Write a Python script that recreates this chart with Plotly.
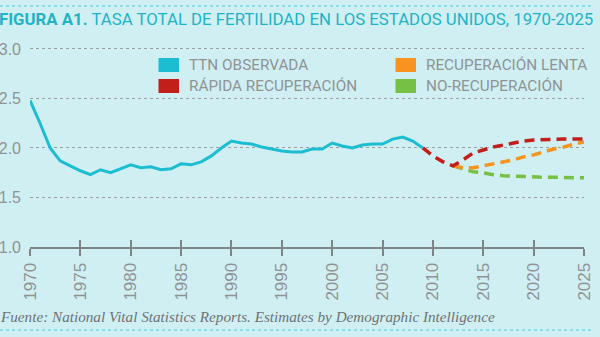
import plotly.graph_objects as go

# ---- data ----
obs_years = list(range(1970, 2010))
obs_tfr = [2.48, 2.25, 2.00, 1.87, 1.82, 1.77, 1.73, 1.78, 1.75, 1.79,
           1.83, 1.80, 1.81, 1.78, 1.79, 1.84, 1.83, 1.86, 1.92, 2.00,
           2.07, 2.05, 2.04, 2.01, 1.99, 1.97, 1.96, 1.96, 1.99, 1.99,
           2.05, 2.02, 2.00, 2.03, 2.04, 2.04, 2.09, 2.11, 2.07, 2.00]

rapid_years = list(range(2009, 2026))
rapid_tfr = [2.00, 1.92, 1.86, 1.82, 1.88, 1.95, 1.98, 2.01, 2.03, 2.05,
             2.07, 2.08, 2.085, 2.09, 2.09, 2.09, 2.09]

slow_years = list(range(2012, 2026))
slow_tfr = [1.82, 1.80, 1.80, 1.82, 1.84, 1.86, 1.88, 1.91, 1.93, 1.96,
            1.99, 2.01, 2.04, 2.06]

none_years = list(range(2012, 2026))
none_tfr = [1.82, 1.79, 1.76, 1.75, 1.73, 1.72, 1.715, 1.71, 1.71, 1.705,
            1.705, 1.70, 1.70, 1.70]

x_ticks = list(range(1970, 2030, 5))
y_ticks = [1.0, 1.5, 2.0, 2.5, 3.0]

legend_labels = ["TTN OBSERVADA", "RÁPIDA RECUPERACIÓN",
                 "RECUPERACIÓN LENTA", "NO-RECUPERACIÓN"]

# ---- styles ----
BG = "#cfeff3"
CYAN = "#1cbdd0"
RED = "#c21f1a"
ORANGE = "#f7931e"
GREEN = "#76c043"
GRAY_TXT = "#8f9394"
AXIS = "#7d8586"
TITLE_C = "#1fb3c7"

W, H = 600, 337
L, R, T, B = 30, 584, 47, 247


def px(x):
    return (x - L) / (R - L)


def py(y):
    return (B - y) / (B - T)


fig = go.Figure()
dash = "10px,6px"
fig.add_trace(go.Scatter(x=none_years, y=none_tfr, mode="lines",
                         line=dict(color=GREEN, width=3.5, dash=dash), showlegend=False))
fig.add_trace(go.Scatter(x=slow_years, y=slow_tfr, mode="lines",
                         line=dict(color=ORANGE, width=3.5, dash=dash), showlegend=False))
fig.add_trace(go.Scatter(x=rapid_years, y=rapid_tfr, mode="lines",
                         line=dict(color=RED, width=3.5, dash=dash), showlegend=False))
fig.add_trace(go.Scatter(x=obs_years, y=obs_tfr, mode="lines",
                         line=dict(color=CYAN, width=3), showlegend=False))
# dummy trace for the overlay axis (ticks pointing up)
fig.add_trace(go.Scatter(x=[None], y=[None], xaxis="x2", showlegend=False, hoverinfo="skip"))

fig.update_layout(
    width=W, height=H,
    margin=dict(l=L, r=W - R, t=T, b=H - B, autoexpand=False),
    paper_bgcolor=BG, plot_bgcolor=BG,
    xaxis=dict(range=[1970, 2025], tickvals=x_ticks, ticks="outside", ticklen=7,
               tickwidth=1.5, tickcolor=AXIS, showline=True, linecolor=AXIS, linewidth=2,
               showgrid=False, zeroline=False, tickangle=-90, automargin=False,
               tickfont=dict(family="Liberation Sans, Arial", size=17, color=GRAY_TXT)),
    xaxis2=dict(range=[1970, 2025], tickvals=x_ticks, ticks="inside", ticklen=7,
                tickwidth=1.5, tickcolor=AXIS, overlaying="x", side="bottom", anchor="y",
                showticklabels=False, showgrid=False, zeroline=False, showline=False,
                automargin=False),
    yaxis=dict(range=[1.0, 3.02], tickvals=y_ticks, ticktext=["1.0", "1.5", "2.0", "2.5", "3.0"],
               showgrid=True, gridcolor="#9a9fa0", griddash="dot", gridwidth=1,
               zeroline=False, showline=False, ticks="", ticklabelstandoff=8, automargin=False,
               tickfont=dict(family="Liberation Sans, Arial", size=16, color=GRAY_TXT)),
)

shapes = []
annots = []
# dotted cyan frame lines
for yy in (6, 330):
    shapes.append(dict(type="line", xref="paper", yref="paper", x0=px(0), x1=px(592),
                       y0=py(yy), y1=py(yy), line=dict(color="#55c8d6", width=1, dash="dot")))

# title
annots.append(dict(xref="paper", yref="paper", x=px(-2), y=py(19), xanchor="left", yanchor="middle",
                   showarrow=False, borderpad=0,
                   text="<b>FIGURA A1.</b> TASA TOTAL DE FERTILIDAD EN LOS ESTADOS UNIDOS, 1970-2025",
                   font=dict(family="Roboto", size=16.8, color=TITLE_C)))

# legend
leg_colors = [CYAN, RED, ORANGE, GREEN]
leg_pos = [(158.5, 65), (158.5, 86), (395.5, 65), (395.5, 86)]
for lab, col, (lx, ly) in zip(legend_labels, leg_colors, leg_pos):
    shapes.append(dict(type="rect", xref="paper", yref="paper", x0=px(lx), x1=px(lx + 20.5),
                       y0=py(ly - 7), y1=py(ly + 7), fillcolor=col, line=dict(width=0)))
    annots.append(dict(xref="paper", yref="paper", x=px(lx + 29), y=py(ly), xanchor="left",
                       yanchor="middle", showarrow=False, text=lab, borderpad=0,
                       font=dict(family="Roboto", size=15.3, color=GRAY_TXT)))

# source
annots.append(dict(xref="paper", yref="paper", x=px(-1), y=py(316), xanchor="left", yanchor="middle",
                   showarrow=False, borderpad=0,
                   text="<i>Fuente: National Vital Statistics Reports. Estimates by Demographic Intelligence</i>",
                   font=dict(family="Liberation Serif, DejaVu Serif", size=15.2, color="#6f7273")))

fig.update_layout(shapes=shapes, annotations=annots)
fig.write_html("out.html")
